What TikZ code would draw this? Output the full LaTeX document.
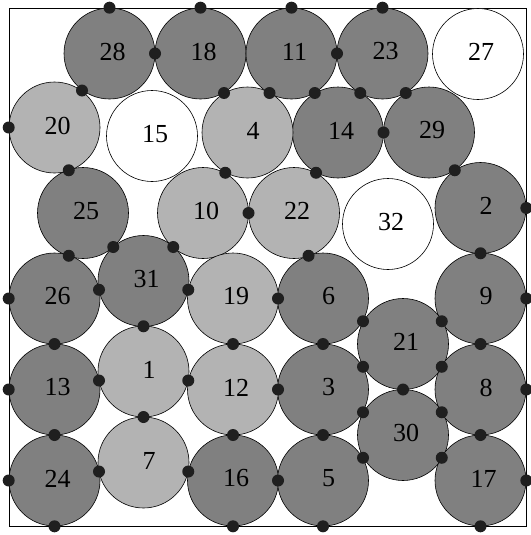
\documentclass[tikz,border=0pt]{standalone}
\usepackage{fontspec}
\setmainfont{Liberation Serif}
\usepackage{tikz}
\usetikzlibrary{calc}
\definecolor{dkgray}{RGB}{128,128,128}
\definecolor{ltgray}{RGB}{179,179,179}
\tikzset{
  ball/.style={draw, circle, line width=0.6pt, minimum size=91pt, inner sep=0pt},
  dkball/.style={ball, fill=dkgray},
  ltball/.style={ball, fill=ltgray},
  freeball/.style={ball, fill=white},
  num/.style={inner sep=0pt, font=\fontsize{26}{28}\selectfont},
  contact/.style={circle, fill=black!88, minimum size=12pt, inner sep=0pt},
}
\begin{document}
\begin{tikzpicture}[x=1pt, y=-1pt]
  \useasboundingbox (0,0) rectangle (530,535);
  \draw[line width=0.6pt] (9,8) rectangle (526,526);
  % dark balls
  \foreach \n/\x/\y in {28/109.5/53.5, 18/200.5/53.5, 11/291.5/53.5, 23/382.5/53.5,
      14/338/132.5, 29/429/132.5, 25/83/213, 2/480.5/208,
      26/54.5/298.5, 31/143.5/281, 6/323/298.5, 9/480.5/298.5,
      21/403/344, 30/403/435, 13/54.5/389.5, 3/323/389.5, 8/480.5/389.5,
      24/54.5/480.5, 16/233/480.5, 5/323/480.5, 17/480.5/480.5}
    \node[dkball] (c\n) at (\x,\y) {};
  % light balls
  \foreach \n/\x/\y in {20/54.5/127.5, 4/247.5/132.5, 10/203/213, 22/294/213,
      19/233/298.5, 1/143.5/371.5, 12/233/389.5, 7/143.5/462.5}
    \node[ltball] (c\n) at (\x,\y) {};
  % free balls
  \foreach \n/\x/\y in {27/478/54, 15/152/136, 32/388/224}
    \node[freeball] (c\n) at (\x,\y) {};
  % numbers, set a little right of the centre
  \foreach \n in {1,...,32} {
    \pgfmathsetmacro\dx{\n<10 ? 5.5 : 3}
    \node[num] (l\n) at ([shift={(\dx,-2)}]c\n.center) {\n};
  }
  % contacts between balls
  \foreach \a/\b in {c28/c18, c11/c23, c28/c20, c18/c4, c11/c4, c11/c14, c23/c14,
      c23/c29, c14/c29, c20/c25, c4/c10, c14/c22, c29/c2, c10/c22, c25/c26,
      c25/c31, c10/c31, c22/c6, c2/c9, c26/c31, c31/c19, c19/c6, c6/c21,
      c9/c21, c26/c13, c31/c1, c19/c12, c6/c3, c9/c8, c13/c1, c1/c12, c12/c3,
      c21/c3, c21/c8, c21/c30, c3/c30, c8/c30, c13/c24, c1/c7, c12/c16, c3/c5,
      c8/c17, c24/c7, c7/c16, c16/c5, c5/c30, c17/c30}
    \node[contact] (\a\b) at ($(\a)!0.5!(\b)$) {};
  % contacts with the walls
  \foreach \p in {c28.north, c18.north, c11.north, c23.north, c20.west, c2.east,
      c26.west, c9.east, c13.west, c8.east, c24.west, c17.east,
      c24.south, c16.south, c5.south, c17.south}
    \node[contact] at (\p) {};
\end{tikzpicture}
\end{document}
